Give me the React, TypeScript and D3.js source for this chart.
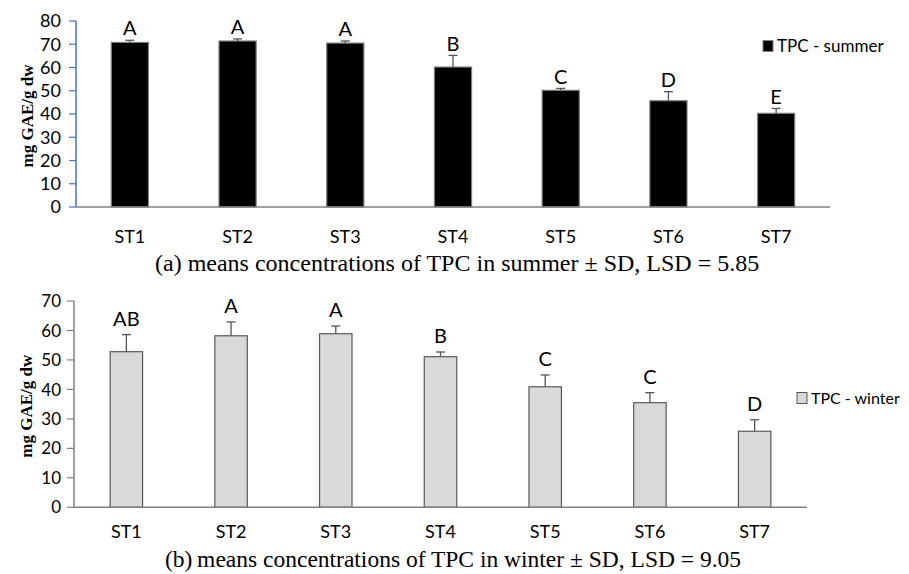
import React, { useEffect, useRef } from 'react';
import * as d3 from 'd3';

const stations = ['ST1', 'ST2', 'ST3', 'ST4', 'ST5', 'ST6', 'ST7'];

const summerMeans = [70.8, 71.4, 70.5, 60.2, 50.2, 45.7, 40.3];
const summerSD = [0.9, 0.9, 0.9, 5.0, 0.8, 3.9, 2.1];
const summerLetters = ['A', 'A', 'A', 'B', 'C', 'D', 'E'];

const winterMeans = [52.8, 58.2, 58.9, 51.1, 40.9, 35.5, 25.8];
const winterSD = [5.8, 4.7, 2.6, 1.6, 4.0, 3.4, 3.9];
const winterLetters = ['AB', 'A', 'A', 'B', 'C', 'C', 'D'];

const summerTicks = [0, 10, 20, 30, 40, 50, 60, 70, 80];
const winterTicks = [0, 10, 20, 30, 40, 50, 60, 70];

const SANS = 'Lato, "Open Sans", sans-serif';
const SERIF = '"Liberation Serif", "DejaVu Serif", serif';

const App = () => {
  const ref = useRef<SVGSVGElement | null>(null);

  useEffect(() => {
    document.body.style.margin = '0';
    const svg = d3.select(ref.current);
    svg.selectAll('*').remove();

    const panel = (opts: any) => {
      const g = svg.append('g');
      const x = d3.scaleBand().domain(stations).range([opts.x0, opts.x1]).paddingInner(opts.pad).paddingOuter(opts.pad / 2);
      const y = d3.scaleLinear().domain([0, opts.max]).range([opts.yBottom, opts.yTop]);

      // y ticks + labels
      g.selectAll('line.tick').data(opts.ticks).join('line')
        .attr('x1', opts.x0 - 7).attr('x2', opts.x0)
        .attr('y1', (d: number) => y(d)).attr('y2', (d: number) => y(d))
        .attr('stroke', opts.yAxisColor).attr('stroke-width', 1.2);
      g.selectAll('text.tick').data(opts.ticks).join('text')
        .attr('x', 61).attr('y', (d: number) => y(d)).attr('dy', '0.36em')
        .attr('text-anchor', 'end').attr('font-family', SANS).attr('font-size', opts.tickSize)
        .attr('fill', '#000').text((d: number) => d);

      // bars
      g.selectAll('rect.bar').data(opts.means).join('rect')
        .attr('x', (_: number, i: number) => x(stations[i])!)
        .attr('width', x.bandwidth())
        .attr('y', (d: number) => y(d))
        .attr('height', (d: number) => y(0) - y(d))
        .attr('fill', opts.fill).attr('stroke', opts.barStroke).attr('stroke-width', 1.2);

      // error bars (upper only), group letters, category labels
      opts.means.forEach((m: number, i: number) => {
        const cx = x(stations[i])! + x.bandwidth() / 2;
        const top = y(m + opts.sd[i]);
        g.append('line').attr('x1', cx).attr('x2', cx).attr('y1', y(m)).attr('y2', top)
          .attr('stroke', '#555').attr('stroke-width', 1.3);
        g.append('line').attr('x1', cx - 4.5).attr('x2', cx + 4.5).attr('y1', top).attr('y2', top)
          .attr('stroke', '#555').attr('stroke-width', 1.3);
        g.append('text').attr('x', cx).attr('y', top - opts.letterGap).attr('dy', '0.36em')
          .attr('text-anchor', 'middle').attr('font-family', SANS).attr('font-size', 20)
          .attr('fill', '#000').text(opts.letters[i]);
        g.append('text').attr('x', cx).attr('y', opts.xLabelY).attr('dy', '0.36em')
          .attr('text-anchor', 'middle').attr('font-family', SANS).attr('font-size', 18)
          .attr('fill', '#000').text(stations[i]);
      });

      // axes
      g.append('line').attr('x1', opts.x0).attr('x2', opts.x1).attr('y1', y(0)).attr('y2', y(0))
        .attr('stroke', '#808080').attr('stroke-width', 1.5);
      g.append('line').attr('x1', opts.x0).attr('x2', opts.x0).attr('y1', y(0)).attr('y2', y(opts.max))
        .attr('stroke', opts.yAxisColor).attr('stroke-width', 1.5);

      // y title
      g.append('text')
        .attr('transform', `translate(${opts.titleX},${(y(0) + y(opts.max)) / 2 + 2}) rotate(-90)`)
        .attr('text-anchor', 'middle').attr('dy', '0.36em')
        .attr('font-family', SERIF).attr('font-weight', 'bold').attr('font-size', 17)
        .text('mg GAE/g dw');

      // legend
      g.append('rect').attr('x', opts.legX).attr('y', opts.legY - 5.5).attr('width', 10).attr('height', 11)
        .attr('fill', opts.fill).attr('stroke', opts.barStroke).attr('stroke-width', 1);
      g.append('text').attr('x', opts.legX + 14).attr('y', opts.legY).attr('dy', '0.36em')
        .attr('font-family', SANS).attr('font-size', opts.legSize).text(opts.legend);

      // caption
      g.append('text').attr('x', opts.capX).attr('y', opts.capY).attr('dy', '0.36em')
        .attr('font-family', SERIF).attr('font-size', opts.capSize).text(opts.caption);
    };

    panel({
      x0: 76, x1: 830, yTop: 21, yBottom: 207, max: 80, pad: 0.655,
      ticks: summerTicks, means: summerMeans, sd: summerSD, letters: summerLetters,
      fill: '#000', barStroke: '#7f7f7f', yAxisColor: '#4472C4', tickSize: 18,
      letterGap: 12, xLabelY: 237, titleX: 27,
      legX: 763, legY: 46, legSize: 17, legend: 'TPC - summer',
      capX: 155, capY: 262, capSize: 24, caption: '(a) means concentrations of TPC in summer \u00b1 SD, LSD = 5.85',
    });

    panel({
      x0: 74, x1: 807, yTop: 301, yBottom: 507.3, max: 70, pad: 0.69,
      ticks: winterTicks, means: winterMeans, sd: winterSD, letters: winterLetters,
      fill: '#d9d9d9', barStroke: '#595959', yAxisColor: '#808080', tickSize: 17,
      letterGap: 16, xLabelY: 532, titleX: 26,
      legX: 797, legY: 398, legSize: 16, legend: 'TPC - winter',
      capX: 165, capY: 559, capSize: 23.5, caption: '(b)\u2009means concentrations of TPC in winter \u00b1 SD, LSD = 9.05',
    });
  }, []);

  return <svg ref={ref} width={909} height={574} style={{ display: 'block', background: '#fff' }} />;
};

export default App;
